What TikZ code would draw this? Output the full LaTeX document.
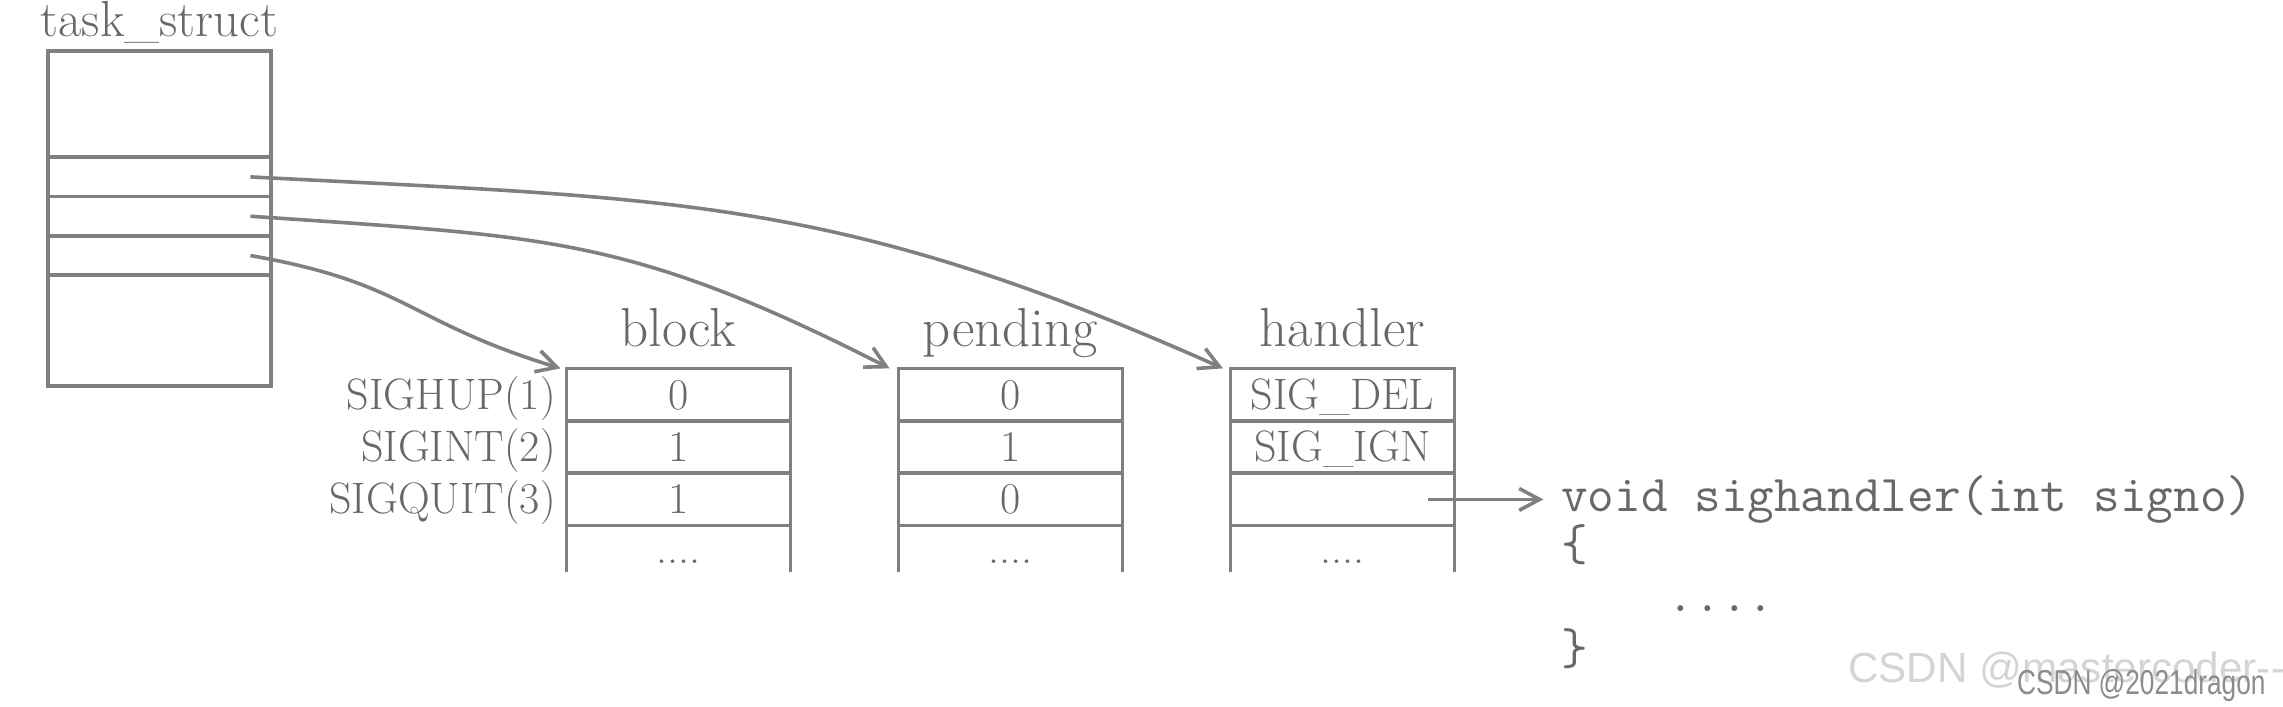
\documentclass[tikz,border=0pt]{standalone}
\usepackage{fontspec}
\newfontfamily\wmfont{Liberation Sans}
\usetikzlibrary{
  positioning,
  arrows.meta,
  calc
}
\definecolor{linegray}{RGB}{128,128,128}
\definecolor{textgray}{RGB}{104,104,104}
\definecolor{wmlight}{RGB}{212,212,212}
\definecolor{wmdark}{RGB}{140,140,140}

\tikzset{
  field/.style = {draw=linegray, line width=1.4pt, minimum width=3.06cm,
    inner sep=0pt, outer sep=0pt},
  cell/.style = {draw=linegray, line width=1.4pt, minimum width=3.08cm,
    minimum height=0.72cm, inner sep=0pt, outer sep=0pt, text=textgray,
    font=\fontsize{17.2}{20}\selectfont, text height=11.3pt, text depth=0pt},
  opencell/.style = {cell, draw=none, minimum height=0.64cm},
  title/.style = {text=textgray, font=\fontsize{21.5}{24}\selectfont,
    inner sep=0pt, text depth=4.8pt},
  siglabel/.style = {text=textgray, font=\fontsize{17.2}{20}\selectfont,
    inner sep=0pt, text height=11.3pt, text depth=0pt},
  code/.style = {text=textgray, font=\ttfamily\fontsize{20.2}{23}\selectfont,
    inner sep=0pt},
  ptr/.style = {draw=linegray, line width=1.4pt,
    -{Straight Barb[length=0.28cm, width=0.3cm]}}
}

\begin{document}
\begin{tikzpicture}
      \useasboundingbox (0,0) rectangle (31.36,-9.70);

      % task_struct
      \node[field, minimum height=1.46cm, anchor=north] (tsk0) at (2.19,-0.70) {};
      \node[field, minimum height=0.54cm, below=0pt of tsk0] (tsk1) {};
      \node[field, minimum height=0.54cm, below=0pt of tsk1] (tsk2) {};
      \node[field, minimum height=0.54cm, below=0pt of tsk2] (tsk3) {};
      \node[field, minimum height=1.52cm, below=0pt of tsk3] (tsk4) {};
      \node[title, font=\fontsize{19.8}{23}\selectfont, above=0.02cm of tsk0] (tsktitle) {task\_struct};

      % block
      \node[cell] (b1) at (9.32,-5.42) {0};
      \node[cell, below=0pt of b1] (b2) {1};
      \node[cell, below=0pt of b2] (b3) {1};
      \node[opencell, below=0pt of b3] (b4) {....};
      \node[title, above=0.13cm of b1] (btitle) {block};

      % pending
      \node[cell, right=1.48cm of b1] (p1) {0};
      \node[cell, below=0pt of p1] (p2) {1};
      \node[cell, below=0pt of p2] (p3) {0};
      \node[opencell, below=0pt of p3] (p4) {....};
      \node[title, above=0.13cm of p1] (ptitle) {pending};

      % handler
      \node[cell, right=1.48cm of p1] (h1) {SIG\_DEL};
      \node[cell, below=0pt of h1] (h2) {SIG\_IGN};
      \node[cell, below=0pt of h2] (h3) {};
      \node[opencell, below=0pt of h3] (h4) {....};
      \node[title, above=0.13cm of h1] (htitle) {handler};

      \foreach \col in {b4,p4,h4}
        \draw[linegray, line width=1.4pt] (\col.north west) -- (\col.south west)
          (\col.north east) -- (\col.south east);

      % signal names
      \node[siglabel, left=0.14cm of b1] (sighup) {SIGHUP(1)};
      \node[siglabel, left=0.14cm of b2] (sigint) {SIGINT(2)};
      \node[siglabel, left=0.14cm of b3] (sigquit) {SIGQUIT(3)};

      % handler code
      \node[code, right=1.46cm of h3] (sig) {void sighandler(int signo)};
      \node[code, anchor=base west] (lbrace) at ([yshift=-0.68cm]sig.base west) {\{};
      \node[code, anchor=base west] (body) at ([yshift=-1.38cm]sig.base west) {\hphantom{void}....};
      \node[code, anchor=base west] (rbrace) at ([yshift=-2.10cm]sig.base west) {\}};

      \draw[ptr] ([xshift=-0.28cm]tsk3.east) to[out=-10, in=163, looseness=1.25] ([xshift=-0.08cm]b1.north west);
      \draw[ptr] ([xshift=-0.28cm]tsk2.east) to[out=-4, in=153, looseness=1.15] ([xshift=-0.12cm]p1.north west);
      \draw[ptr] ([xshift=-0.28cm]tsk1.east) to[out=-3, in=156, looseness=1.1] ([xshift=-0.10cm]h1.north west);
      \draw[ptr] ([xshift=-0.36cm]h3.east) -- ([xshift=-0.24cm]sig.west);

      % watermark
      \node[font=\wmfont\fontsize{16.5}{18}\selectfont, text=wmlight, anchor=base west,
        inner sep=0pt] (wm1) at (25.38,-9.38) {CSDN @mastercoder-{}-};
      \node[font=\wmfont\fontsize{13.5}{15}\selectfont, text=wmdark, anchor=base west,
        inner sep=0pt] (wm2) at (27.70,-9.54) {\scalebox{0.76}[1]{CSDN @2021dragon}};
    \end{tikzpicture}
\end{document}
